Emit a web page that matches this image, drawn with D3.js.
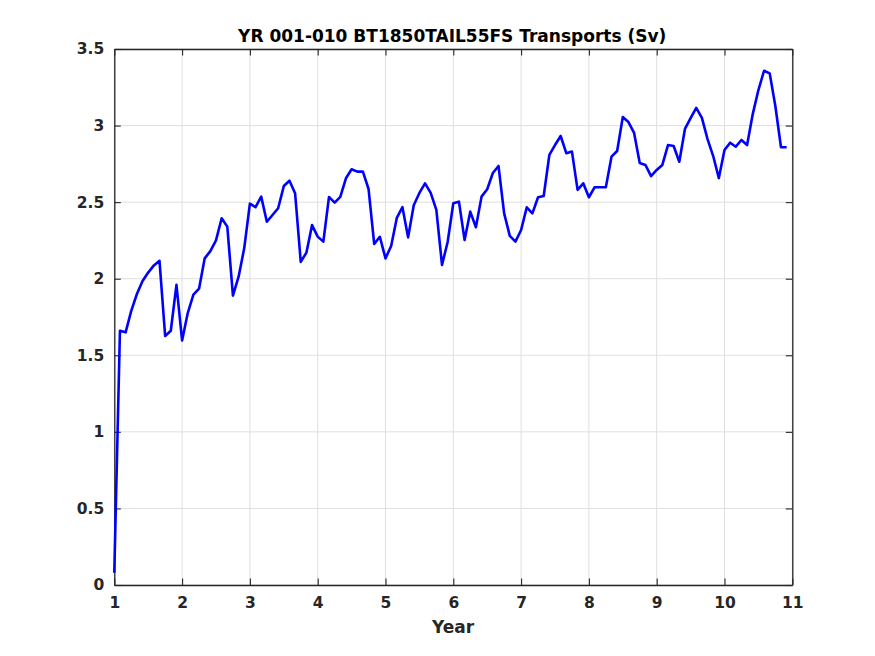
<!DOCTYPE html>
<html><head><meta charset="utf-8">
<script src="https://cdn.jsdelivr.net/npm/d3@7"></script>
<style>body{margin:0;background:#fff}svg{display:block}</style>
</head><body>
<script>
const titleText = "YR 001-010 BT1850TAIL55FS Transports (Sv)";
const xLabel = "Year";
const xTicks = [1,2,3,4,5,6,7,8,9,10,11];
const yTicks = [0,0.5,1,1.5,2,2.5,3,3.5];
// monthly values, year = 1 + k/12
const transport = [
 0.08,1.66,1.65,1.79,1.90,1.985,2.04,2.087,2.117,1.626,1.66,1.96,
 1.597,1.776,1.896,1.935,2.133,2.18,2.25,2.395,2.34,1.89,2.013,2.2,
 2.49,2.467,2.536,2.372,2.416,2.46,2.605,2.64,2.558,2.11,2.17,2.35,
 2.275,2.242,2.534,2.497,2.534,2.656,2.715,2.699,2.699,2.586,2.227,2.274,
 2.133,2.214,2.397,2.467,2.27,2.48,2.56,2.623,2.56,2.45,2.09,2.24,
 2.493,2.503,2.253,2.438,2.336,2.536,2.584,2.69,2.736,2.427,2.28,2.242,
 2.318,2.466,2.427,2.532,2.54,2.808,2.873,2.932,2.82,2.83,2.58,2.623,
 2.532,2.597,2.597,2.597,2.797,2.834,3.056,3.023,2.952,2.756,2.743,2.67,
 2.71,2.743,2.873,2.867,2.764,2.978,3.048,3.115,3.05,2.912,2.801,2.657,
 2.84,2.888,2.862,2.906,2.873,3.075,3.232,3.358,3.341,3.128,2.858,2.858
];
const years = transport.map((_, k) => 1 + k / 12);

const W = 875, H = 656;
const L = 114.3, R = 792.3, T = 49, B = 585;
const ink = "#262626";
const svg = d3.select("body").append("svg").attr("width", W).attr("height", H)
  .style("font-family", "'DejaVu Sans', sans-serif");

const x = d3.scaleLinear().domain([1, 11]).range([L, R]);
const y = d3.scaleLinear().domain([0, 3.5]).range([B, T]);

// grid
const g = svg.append("g");
g.selectAll("line.gx").data(xTicks).join("line")
  .attr("x1", d => x(d)).attr("x2", d => x(d)).attr("y1", T).attr("y2", B)
  .attr("stroke", "#dfdfdf").attr("stroke-width", 1);
g.selectAll("line.gy").data(yTicks).join("line")
  .attr("y1", d => y(d)).attr("y2", d => y(d)).attr("x1", L).attr("x2", R)
  .attr("stroke", "#dfdfdf").attr("stroke-width", 1);

// axes (ticks inward)
const tl = 6.5;
const axB = d3.axisBottom(x).tickValues(xTicks).tickSizeInner(-tl).tickSizeOuter(0).tickPadding(12).tickFormat(d3.format("d"));
const axT = d3.axisTop(x).tickValues(xTicks).tickSizeInner(-tl).tickSizeOuter(0).tickFormat("");
const axL = d3.axisLeft(y).tickValues(yTicks).tickSizeInner(-tl).tickSizeOuter(0).tickPadding(10).tickFormat(d => String(d));
const axR = d3.axisRight(y).tickValues(yTicks).tickSizeInner(-tl).tickSizeOuter(0).tickFormat("");

function style(sel){
  sel.selectAll("path").attr("stroke", ink).attr("stroke-width", 1.3);
  sel.selectAll("line").attr("stroke", ink).attr("stroke-width", 1.1);
  sel.selectAll("text").attr("fill", ink).attr("font-size", "15.5px").attr("font-weight", "bold")
    .attr("font-family", "'DejaVu Sans', sans-serif");
}
svg.append("g").attr("transform", `translate(0,${B})`).call(axB).call(style)
  .selectAll("text").attr("dy", "0.71em");
svg.append("g").attr("transform", `translate(0,${T})`).call(axT).call(style);
svg.append("g").attr("transform", `translate(${L},0)`).call(axL).call(style);
svg.append("g").attr("transform", `translate(${R},0)`).call(axR).call(style);

// line
const line = d3.line().x((d, i) => x(years[i])).y(d => y(d));
svg.append("path").datum(transport).attr("d", line)
  .attr("fill", "none").attr("stroke", "#0000ff").attr("stroke-width", 2.6)
  .attr("stroke-linejoin", "round");

// title and label
svg.append("text").attr("x", 452.2).attr("y", 42).attr("text-anchor", "middle")
  .attr("font-size", "17px").attr("font-weight", "bold").attr("fill", "#000")
  .text(titleText);
svg.append("text").attr("x", 453).attr("y", 633).attr("text-anchor", "middle")
  .attr("font-size", "17px").attr("font-weight", "bold").attr("fill", ink)
  .text(xLabel);
</script>
</body></html>
